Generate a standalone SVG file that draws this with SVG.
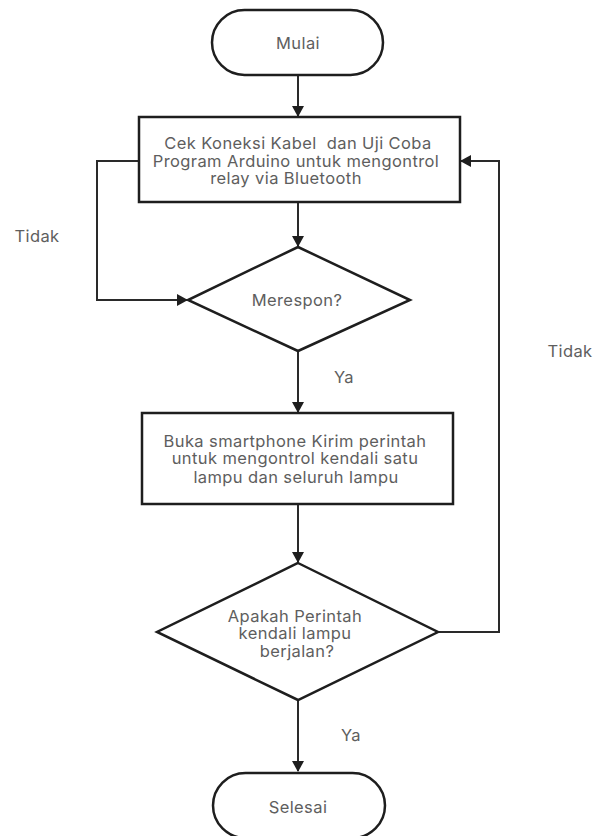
<svg xmlns="http://www.w3.org/2000/svg" width="608" height="836" viewBox="0 0 608 836">
<style>
.s{fill:#fff;stroke:#1e1e1e;stroke-width:2.5}
.t{font-family:Inter,"Noto Sans",sans-serif;font-size:16.5px;letter-spacing:0.4px;fill:#5e5e5e;text-anchor:middle;white-space:pre}
.l{fill:none;stroke:#2a2a2a;stroke-width:2}
</style>
<defs>
<marker id="a" markerWidth="12" markerHeight="12" refX="10" refY="6" orient="auto" markerUnits="userSpaceOnUse">
<path d="M0,0 L11,6 L0,12 Z" fill="#1e1e1e"/>
</marker>
</defs>
<rect width="608" height="836" fill="#fff"/>
<g id="connectors">
<path class="l" d="M298,75 V116" marker-end="url(#a)"/>
<path class="l" d="M298,202 V246" marker-end="url(#a)"/>
<path class="l" d="M139,161 H97 V300 H187" marker-end="url(#a)"/>
<path class="l" d="M298,350 V412" marker-end="url(#a)"/>
<path class="l" d="M298,504 V562" marker-end="url(#a)"/>
<path class="l" d="M438,632 H499 V161 H461" marker-end="url(#a)"/>
<path class="l" d="M298,700 V771" marker-end="url(#a)"/>
</g>
<g id="mulai">
<rect class="s" x="212" y="10" width="171" height="65" rx="32.5"/>
<text class="t" x="298" y="49">Mulai</text>
</g>
<g id="cek">
<rect class="s" x="139" y="117" width="321" height="85"/>
<text class="t" x="298" y="149" xml:space="preserve">Cek Koneksi Kabel  dan Uji Coba</text>
<text class="t" x="296" y="167">Program Arduino untuk mengontrol</text>
<text class="t" x="286" y="184">relay via Bluetooth</text>
</g>
<g id="merespon">
<polygon class="s" points="298,247 410,300 298,351 188,300"/>
<text class="t" x="297" y="306">Merespon?</text>
</g>
<g id="buka">
<rect class="s" x="142" y="413" width="311" height="91"/>
<text class="t" x="295" y="447">Buka smartphone Kirim perintah</text>
<text class="t" x="295" y="464">untuk mengontrol kendali satu</text>
<text class="t" x="296" y="483">lampu dan seluruh lampu</text>
</g>
<g id="apakah">
<polygon class="s" points="298,563 438,632 298,700 157,632"/>
<text class="t" x="295" y="622">Apakah Perintah</text>
<text class="t" x="295" y="639">kendali lampu</text>
<text class="t" x="297" y="657">berjalan?</text>
</g>
<g id="selesai">
<rect class="s" x="213" y="773" width="172" height="65" rx="32.5"/>
<text class="t" x="298" y="813">Selesai</text>
</g>
<g id="labels">
<text class="t" x="37" y="242">Tidak</text>
<text class="t" x="344" y="383">Ya</text>
<text class="t" x="570" y="357">Tidak</text>
<text class="t" x="351" y="741">Ya</text>
</g>
</svg>
